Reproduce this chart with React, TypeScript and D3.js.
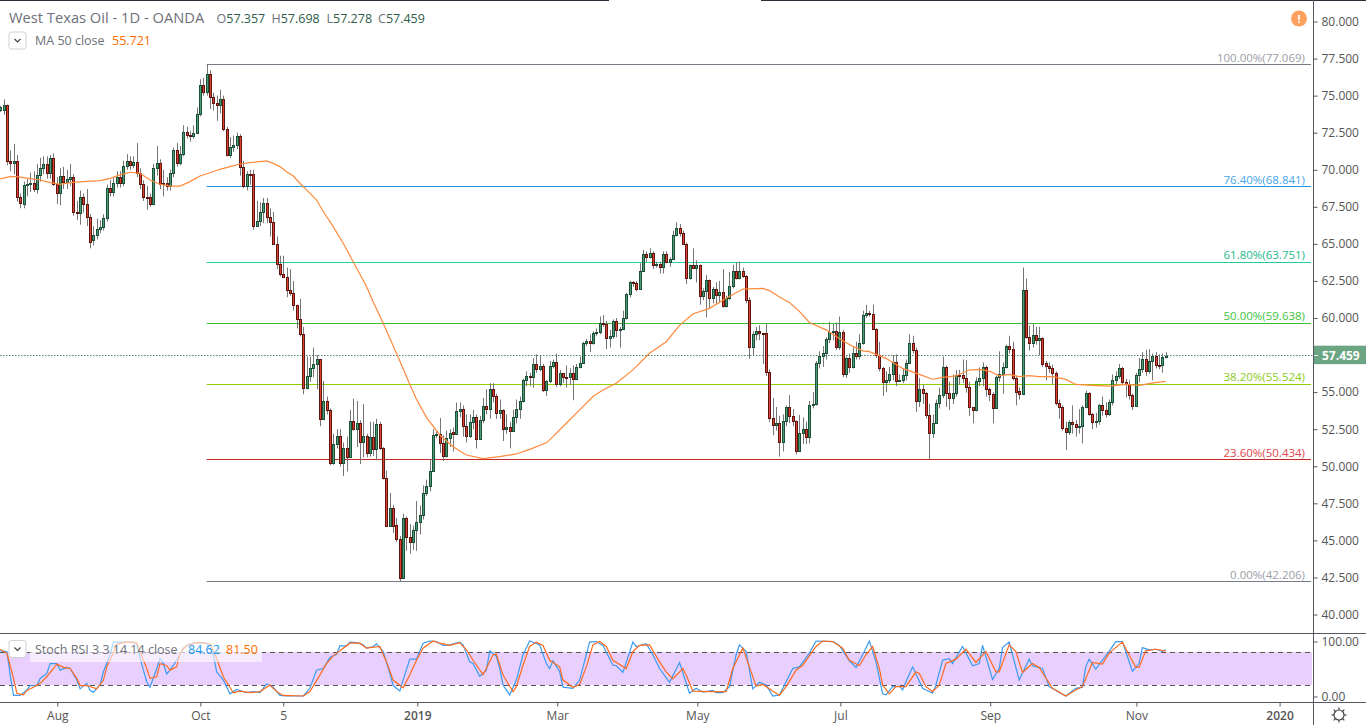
import React, { useEffect, useRef } from "react";
import * as d3 from "d3";

type Bar = [number, number, number, number]; // open, high, low, close

const barsSummer2018: Bar[] = [
  [74.03,74.3,73.9,74.21],[74.03,74.75,73.7,74.35],[74.35,74.4,70.3,70.61],[70.61,71.3,69.9,70.43],[70.43,71.75,69.7,70.61],
  [70.61,71.0,67.85,68.14],[68.14,68.4,67.4,67.74],[67.7,69.2,67.4,68.95],[68.95,69.4,68.2,69.04],[69.04,69.8,68.5,69.09],
  [69.09,69.9,68.5,68.68],[68.68,70.4,68.4,69.65],[69.65,70.8,69.2,70.1],[70.1,70.9,69.7,70.39],[70.39,70.9,69.4,69.76],
  [69.76,71.0,69.4,70.77],[70.77,71.1,68.9,69.04],[69.04,69.5,67.7,68.46],[68.46,70.1,67.6,69.58],[69.58,70.2,68.7,69.2],
  [69.2,70.0,68.7,69.36],[69.36,70.4,68.9,69.49],[69.49,69.7,66.9,67.18],[67.18,67.9,66.6,67.06],[67.06,68.6,66.3,68.14],
  [68.14,68.4,67.1,67.7],[67.7,68.7,66.2,66.84],[66.84,67.0,64.7,65.1],[65.27,66.2,64.9,65.6],[65.6,66.7,65.3,65.98],
  [65.98,66.6,65.7,66.12],[66.12,67.0,65.9,66.72],[66.72,69.0,66.5,68.8],[68.8,69.3,68.2,68.52],[68.52,69.5,68.2,69.13],
  [69.13,69.9,68.8,69.49],[69.49,69.9,68.8,69.09],[69.09,70.6,68.9,70.25],[70.25,71.05,70.0,70.57],[70.57,70.9,70.0,70.35],
  [70.35,70.9,70.1,70.5],[70.5,71.8,69.5,69.76],[69.76,70.1,68.7,69.02],[69.02,69.3,67.9,68.19],[68.19,68.9,67.3,68.14],
  [68.14,68.4,67.5,67.7],[67.7,70.4,67.6,70.1],[70.1,71.6,69.6,70.48],[70.48,70.7,68.7,69.04],[69.13,70.0,68.2,69.04],
  [69.13,69.5,68.6,68.9],[68.9,70.0,68.6,69.76],[69.76,71.5,69.5,71.33],[71.33,71.8,70.2,70.48],[70.48,71.6,70.3,71.06],
  [71.06,73.0,70.9,72.53],[72.53,72.9,72.1,72.35],[72.35,72.6,71.9,72.28],[72.28,73.0,72.1,72.46],[72.46,74.2,72.4,73.74],
];

const barsAutumn2018: Bar[] = [
  [73.74,76.1,73.6,75.7],[75.7,76.2,75.0,75.27],[75.27,77.07,75.0,76.44],[76.44,76.7,74.1,74.89],[74.89,75.2,74.0,74.48],
  [74.48,75.0,73.3,74.35],[74.35,75.4,73.8,74.8],[74.8,75.0,72.6,72.73],[72.73,72.9,70.9,71.02],[71.02,72.2,70.8,71.51],
  [71.51,72.3,71.2,71.69],[71.69,72.5,71.4,72.28],[72.28,72.4,69.6,70.21],[70.17,70.6,68.75,68.9],[68.9,69.9,68.6,69.72],
  [69.72,70.0,69.0,69.7],[69.72,70.0,65.95,66.23],[66.23,67.9,66.2,66.52],[66.52,67.8,66.2,67.13],[67.13,68.1,66.4,67.74],
  [67.74,68.1,66.4,66.79],[66.79,67.4,65.5,66.45],[66.45,67.15,64.97,64.97],[64.97,65.5,63.3,63.62],[63.62,64.2,62.8,62.95],
  [62.95,64.2,62.7,62.75],[62.75,63.4,61.4,61.87],[61.87,63.3,61.5,61.67],[61.67,62.5,60.5,60.86],[60.86,60.9,59.3,59.91],
  [59.91,61.3,58.75,58.9],[58.9,59.4,54.85,55.26],[55.26,57.4,55.2,56.07],[56.07,57.4,55.7,56.61],[56.61,58.0,56.0,56.88],
  [56.88,57.5,55.2,57.21],[57.21,57.25,52.7,53.21],[53.21,55.75,53.2,54.43],[54.43,54.7,53.5,53.77],[53.77,53.9,50.05,50.25],
  [50.25,52.2,50.1,51.48],[51.48,52.5,51.2,52.04],[52.04,52.5,49.98,50.2],[50.2,51.6,49.35,51.21],[51.21,52.0,49.65,50.65],
  [50.65,53.8,50.65,53.03],[53.03,54.55,52.4,52.54],[52.54,54.4,51.3,52.9],[52.9,53.1,50.15,51.66],[51.66,54.2,50.6,52.07],
  [52.07,52.2,50.6,50.87],[50.87,53.0,50.65,51.95],[51.95,53.0,50.7,51.19],[51.19,53.2,50.4,52.83],[52.83,53.0,51.1,51.21],
  [51.21,51.3,49.1,49.23],[49.23,49.7,45.9,46.0],[46.0,48.2,45.9,47.17],[47.17,47.4,45.5,46.0],[46.02,46.5,44.9,45.12],
  [45.12,45.3,42.26,42.49],[42.49,46.8,42.4,46.49],[46.49,46.6,44.3,45.25],[45.25,46.1,44.1,44.92],[44.92,46.0,44.35,45.68],
];

const barsEarly2019: Bar[] = [
  [45.68,47.65,44.3,46.22],[46.22,47.35,45.4,46.69],[46.69,48.7,46.4,48.18],[48.18,49.1,48.0,48.65],[48.65,50.5,48.3,49.66],
  [49.66,52.5,49.6,52.09],[52.09,52.4,51.9,52.2],[52.2,53.25,50.9,51.6],[51.6,52.1,50.35,50.72],[50.72,52.4,50.6,51.93],
  [51.93,52.5,51.3,52.27],[52.29,52.6,51.0,52.16],[52.16,54.3,52.1,53.71],[53.71,54.3,53.3,53.89],[53.89,54.1,52.0,52.74],
  [52.74,53.5,51.6,52.07],[52.07,53.5,51.9,52.97],[52.97,53.8,52.5,53.3],[53.3,53.5,51.2,51.86],[51.86,53.4,51.8,53.1],
  [53.1,54.6,52.9,54.04],[54.04,55.2,53.5,53.84],[53.84,55.6,53.2,55.19],[55.19,55.6,54.3,54.72],[54.72,54.9,53.2,53.57],
  [53.57,54.5,53.2,53.77],[53.77,53.85,51.7,52.5],[52.5,53.5,52.2,52.63],[52.63,53.0,51.2,52.36],[52.36,53.8,52.3,53.3],
  [53.3,54.5,52.9,53.89],[53.89,54.7,53.2,54.43],[54.43,55.9,54.3,55.8],[55.8,56.4,55.4,56.07],[56.07,56.3,55.4,56.05],
  [56.05,57.3,55.3,56.9],[56.9,57.55,56.3,56.54],[56.54,57.5,56.4,56.76],[56.76,56.9,55.0,55.12],[55.12,55.8,54.75,55.73],
  [55.73,57.1,55.6,56.74],[56.74,57.2,56.6,57.01],[57.01,57.6,55.35,55.55],[55.55,56.5,55.4,56.27],[56.27,56.3,55.6,56.05],
  [56.05,56.8,55.3,56.0],[56.0,56.6,55.5,56.27],[56.27,56.8,54.45,55.87],[55.87,56.9,55.8,56.68],[56.68,57.4,56.6,56.99],
  [56.99,58.4,56.9,58.29],[58.29,58.6,58.1,58.43],[58.43,58.9,57.7,58.34],[58.34,59.1,58.2,58.97],[58.97,59.3,58.8,59.06],
  [59.06,60.1,58.9,59.69],[59.69,60.2,59.4,59.58],[59.58,59.8,57.9,58.68],[58.68,59.2,58.0,58.81],[58.81,59.9,58.6,59.78],
  [59.78,60.0,58.7,59.17],[59.17,59.4,58.0,59.28],[59.28,60.5,59.2,59.98],[59.98,61.7,59.9,61.6],[61.6,62.5,61.4,62.41],
  [62.41,62.5,62.1,62.34],[62.34,62.5,61.8,61.98],[61.98,63.7,61.9,63.15],[63.15,64.6,63.1,64.32],[64.32,64.5,63.8,64.14],
  [64.14,64.7,64.0,64.36],[64.36,64.5,63.3,63.6],[63.6,63.8,63.4,63.67],[63.67,63.8,63.0,63.46],[63.46,64.5,63.0,64.3],
  [64.3,64.5,63.7,63.76],[63.76,64.1,63.45,63.96],[63.96,65.9,63.9,65.58],[65.58,66.45,65.5,66.05],[66.05,66.35,65.5,65.71],
  [65.71,65.9,64.95,65.02],[65.02,65.1,62.3,62.72],[62.72,63.6,62.6,63.55],[63.55,64.7,63.3,63.4],[63.4,63.9,62.4,63.55],
];

const barsMid2019: Bar[] = [
  [63.55,63.6,60.9,61.51],[61.51,62.0,61.2,61.8],[61.8,62.9,60.05,62.54],[62.54,62.6,60.6,61.37],[61.37,62.1,61.0,61.94],
  [61.94,62.4,60.9,61.58],[61.58,62.5,61.0,61.73],[61.73,63.3,60.7,60.83],[60.83,61.5,60.7,61.33],[61.33,63.1,61.2,62.14],
  [62.14,63.6,62.0,63.15],[63.15,63.75,62.6,62.72],[62.72,63.8,62.6,63.15],[63.15,63.4,62.7,62.81],[62.81,62.9,61.0,61.19],
  [61.22,61.4,57.25,58.07],[58.07,59.1,57.5,58.9],[58.9,59.4,58.5,59.15],[59.15,59.5,58.5,58.97],[58.97,59.0,56.9,58.95],
  [58.97,59.65,56.1,56.34],[56.34,56.55,53.0,53.24],[53.24,54.6,52.1,52.76],[52.76,54.0,52.4,52.9],[52.9,53.4,50.65,51.66],
  [51.66,53.5,51.0,53.06],[53.06,54.1,52.7,53.98],[53.98,54.8,52.9,53.37],[53.37,53.85,52.7,53.04],[53.04,53.1,50.8,51.05],
  [51.05,53.45,50.95,52.22],[52.22,53.3,51.5,52.49],[52.49,53.0,51.5,51.95],[51.95,54.4,51.55,54.11],[54.11,55.0,53.9,54.18],
  [54.18,57.1,54.1,56.94],[56.94,57.75,56.6,57.44],[57.44,58.1,56.7,57.62],[57.62,58.7,57.2,58.56],[58.56,59.75,58.3,59.06],
  [59.06,59.6,58.5,59.1],[59.1,59.7,57.85,58.02],[58.02,60.1,57.85,59.04],[59.04,59.2,56.0,56.2],[56.2,57.4,55.95,57.28],
  [57.28,57.6,56.3,56.67],[56.67,58.1,56.6,57.62],[57.62,58.4,57.2,57.42],[57.42,58.9,57.2,58.29],[58.29,60.5,58.2,60.18],
  [60.18,60.9,60.0,60.36],[60.36,60.5,60.1,60.3],[60.3,60.9,59.2,59.28],[59.28,59.3,57.3,57.51],[57.51,58.4,56.4,56.6],
  [56.6,56.7,54.75,55.66],[55.66,56.4,55.0,55.8],[55.8,56.7,55.6,56.22],[56.22,57.5,55.8,57.01],[57.01,57.55,55.4,55.78],
  [55.8,56.2,55.7,55.8],[55.8,56.6,55.6,56.16],[56.16,57.2,55.8,56.94],[56.94,58.9,56.9,58.29],[58.29,58.8,57.6,57.82],
  [57.82,58.0,53.65,54.43],[54.43,55.95,54.0,55.19],[55.19,55.5,54.2,54.92],[54.92,55.0,53.2,53.44],[53.44,54.2,50.47,52.27],
  [52.27,53.5,51.9,52.9],[52.9,54.5,52.9,54.25],[54.25,55.3,53.9,54.79],[54.79,57.4,54.6,56.67],[56.67,56.8,54.0,54.92],
  [54.92,55.7,53.8,54.63],[54.63,56.2,54.2,54.92],[54.92,56.5,54.7,56.13],[56.13,56.5,55.5,56.1],[56.13,57.2,55.6,55.93],
  [55.93,57.17,54.96,55.37],[55.37,55.7,53.4,53.97],[53.97,54.0,52.9,53.82],[53.82,56.0,53.7,55.72],[55.72,56.67,55.4,55.93],
  [55.93,57.0,55.4,56.67],[56.67,56.8,54.7,55.19],
];

const barsLate2019: Bar[] = [
  [55.19,55.3,54.4,54.85],[54.85,55.0,52.9,53.95],[53.95,56.1,53.9,56.0],[56.0,57.75,55.7,56.2],[56.2,57.0,54.9,56.67],
  [56.67,58.2,56.6,58.09],[58.09,58.8,57.6,57.88],[57.88,58.4,55.8,55.93],[55.93,56.1,54.1,55.03],[55.05,55.3,54.5,54.85],
  [54.85,63.4,54.8,61.86],[61.86,62.65,58.6,58.74],[58.74,59.5,57.8,58.33],[58.33,59.6,58.0,58.83],[58.83,59.4,58.2,58.49],
  [58.49,59.4,57.5,58.63],[58.63,58.7,56.7,56.92],[56.94,57.1,55.8,56.74],[56.74,57.0,56.3,56.65],[56.65,56.85,55.55,56.27],
  [56.27,56.4,54.1,54.29],[54.29,54.5,53.2,54.02],[54.02,54.1,52.4,52.56],[52.56,53.0,51.1,52.33],[52.33,53.1,52.1,53.0],
  [53.0,54.1,52.2,52.83],[52.83,53.1,52.0,52.63],[52.63,53.85,52.2,52.7],[52.7,54.1,51.55,53.97],[53.97,55.1,53.9,54.92],
  [54.92,55.0,53.4,53.5],[53.5,53.6,52.5,52.96],[52.96,53.6,52.6,53.03],[53.03,54.2,52.8,54.11],[54.11,54.7,53.4,53.77],
  [53.77,54.3,53.3,53.55],[53.55,54.5,53.4,54.31],[54.31,56.2,54.1,55.79],[55.79,56.4,55.5,56.06],[56.06,56.9,55.9,56.6],
  [56.6,56.7,55.5,55.7],[55.7,55.9,54.65,55.52],[55.52,55.8,54.5,54.83],[54.83,54.9,53.8,54.09],[54.09,56.3,54.0,56.13],
  [56.13,57.3,55.65,56.53],[56.53,57.7,56.3,57.21],[57.21,57.85,56.1,56.4],[56.4,57.9,56.25,57.07],[57.07,57.6,55.8,57.41],
  [57.41,57.7,56.6,56.85],[56.85,57.55,56.55,56.8],[56.8,57.6,56.3,57.34],[57.357,57.698,57.278,57.459],
];

const bars = [...barsSummer2018, ...barsAutumn2018, ...barsEarly2019, ...barsMid2019, ...barsLate2019];

// [bar index, value]
const ma50: [number, number][] = [
  [0,69.38],[3,69.54],[5,69.54],[8,69.43],[12,69.31],[15,69.13],[18,69.02],[21,69.13],[25,69.2],[30,69.27],[33,69.42],[36,69.65],
  [39,69.83],[42,69.76],[45,69.31],[48,69.02],[51,68.9],[54,68.9],[57,69.2],[60,69.58],[63,69.8],[66,70.03],[69,70.21],[72,70.39],
  [75,70.48],[78,70.55],[80,70.6],[82,70.43],[84,70.21],[86,69.87],[88,69.58],[90,69.09],[92,68.64],[95,67.96],[97,67.18],[100,66.16],
  [103,65.04],[106,63.8],[110,62.12],[112,61.1],[115,59.64],[119,57.62],[123,55.53],[125,54.52],[128,53.3],[132,52.11],[136,51.32],
  [140,50.76],[145,50.51],[150,50.65],[155,50.83],[159,51.14],[164,51.58],[166,52.0],[170,52.9],[174,53.8],[178,54.7],[181,55.15],
  [185,55.6],[190,56.5],[195,57.62],[200,58.4],[204,59.5],[208,60.27],[213,60.65],[218,61.33],[223,61.95],[229,62.0],[231,61.85],
  [234,61.42],[237,61.05],[240,60.45],[243,59.7],[248,59.2],[253,58.47],[256,58.1],[259,57.78],[261,57.73],[266,57.28],[271,56.6],
  [276,56.2],[280,55.87],[283,56.0],[287,56.09],[291,56.49],[294,56.53],[297,56.42],[300,56.1],[303,56.2],[306,56.04],[309,56.11],
  [312,56.04],[316,56.04],[320,55.86],[323,55.52],[328,55.46],[333,55.41],[338,55.52],[342,55.46],[345,55.57],[348,55.68],[350,55.72],
];

const stochK: [number, number][] = [
  [0,82],[2,81],[3,38],[4,1],[6,1],[8,11],[9,19],[11,19],[12,32],[14,41],[15,59],[17,59],[18,47],[20,52],[21,50],[23,29],[24,13],[26,23],
  [27,10],[28,7],[30,21],[31,44],[33,75],[34,98],[37,98],[40,98],[41,93],[43,47],[44,26],[45,16],[47,50],[48,68],[49,59],[50,40],[51,47],
  [53,65],[55,87],[57,95],[59,97],[62,96],[64,75],[65,44],[67,29],[69,4],[71,12],[74,6],[76,8],[78,6],[80,22],[82,16],[84,1],[86,0],[91,0],
  [93,14],[95,47],[97,50],[99,70],[101,76],[102,91],[104,91],[105,98],[107,97],[109,93],[110,87],[112,90],[113,95],[115,81],[117,41],[118,19],
  [120,9],[121,29],[123,67],[125,67],[127,96],[129,100],[131,99],[133,92],[135,93],[138,98],[139,93],[141,62],[142,59],[144,36],[146,47],
  [147,82],[149,72],[150,50],[151,20],[153,2],[155,29],[157,75],[159,100],[162,93],[164,59],[165,50],[166,64],[168,44],[169,16],[172,14],
  [174,29],[177,98],[179,99],[181,92],[184,56],[185,55],[187,43],[190,98],[191,90],[194,95],[196,75],[198,50],[201,25],[204,61],[207,5],
  [209,14],[211,7],[214,10],[215,6],[217,6],[219,17],[221,75],[222,93],[224,81],[226,13],[228,25],[230,20],[232,0],[234,2],[238,50],[240,53],
  [243,78],[245,100],[250,99],[252,92],[255,64],[257,52],[259,75],[261,100],[263,62],[265,4],[266,2],[268,17],[270,18],[271,11],[272,26],
  [274,53],[277,14],[280,5],[281,20],[283,65],[285,68],[286,59],[289,90],[292,55],[294,59],[295,92],[298,30],[300,50],[301,88],[303,98],
  [306,29],[309,67],[310,55],[313,50],[315,17],[320,0],[323,14],[325,16],[326,53],[327,67],[329,49],[332,73],[333,81],[335,99],[337,99],
  [340,45],[342,59],[343,88],[345,84],[347,85],[349,81],[350,84.62],
];

const stochD: [number, number][] = [
  [0,85],[2,78],[4,32],[5,5],[7,2],[8,10],[10,16],[12,23],[14,35],[16,50],[17,58],[19,52],[21,50],[23,32],[24,19],[26,19],[29,13],[31,29],
  [32,53],[34,78],[35,94],[38,98],[41,97],[42,81],[44,50],[45,32],[47,35],[48,59],[50,55],[51,47],[53,53],[54,78],[56,92],[59,97],[63,95],
  [65,68],[67,35],[70,6],[72,9],[75,6],[78,8],[81,20],[83,8],[85,1],[91,0],[93,8],[96,38],[98,59],[100,73],[103,87],[105,96],[108,96],[110,87],
  [114,90],[116,62],[118,29],[121,15],[123,38],[125,65],[127,87],[130,100],[132,96],[135,92],[138,97],[140,84],[142,65],[145,39],[146,50],
  [148,75],[149,76],[151,38],[154,8],[155,17],[157,56],[159,90],[161,98],[163,92],[165,65],[168,53],[169,29],[172,16],[174,21],[176,53],
  [178,93],[180,99],[182,90],[184,65],[188,50],[190,81],[192,92],[195,93],[198,62],[200,44],[202,31],[205,50],[206,38],[208,9],[213,8],[218,8],
  [220,50],[223,87],[225,53],[227,18],[229,21],[234,1],[236,17],[239,47],[241,56],[245,90],[247,100],[250,99],[253,87],[255,65],[258,55],[260,75],
  [262,90],[264,50],[265,20],[267,4],[269,17],[272,17],[275,44],[276,41],[278,17],[280,8],[282,20],[284,59],[287,67],[290,85],[293,61],[296,81],
  [299,44],[300,44],[303,93],[305,81],[307,43],[310,59],[312,52],[316,14],[320,0],[323,11],[325,17],[328,61],[331,58],[333,78],[337,98],[339,75],
  [341,52],[342,52],[344,82],[347,85],[350,81.5],
];

const priceTicks = [80, 77.5, 75, 72.5, 70, 67.5, 65, 62.5, 60, 57.5, 55, 52.5, 50, 47.5, 45, 42.5, 40];
const stochTicks = [100, 0];
const stochBands = [80, 20];

const timeLabels = ["Aug", "Oct", "5", "2019", "Mar", "May", "Jul", "Sep", "Nov", "2020"];
const timeBars = [17.15, 60.1, 85, 125.25, 167.3, 209.35, 252.3, 297.3, 341.2, 384.2];

const fibLevels = ["100.00%", "76.40%", "61.80%", "50.00%", "38.20%", "23.60%", "0.00%"];
const fibPrices = [77.069, 68.841, 63.751, 59.638, 55.524, 50.434, 42.206];
const fibColors = ["#787b86", "#1e96e0", "#1fcf9a", "#3bbf3b", "#8fce00", "#c62828", "#787b86"];
const fibTextColors = ["#9a9da6", "#45a5e8", "#22b98c", "#3fc33f", "#8ccb1e", "#e0464b", "#9a9da6"];

const lastPrice = 57.459;
const FONT = "'Open Sans', sans-serif";

const App: React.FC = () => {
  const svgRef = useRef<SVGSVGElement | null>(null);

  useEffect(() => {
    if (!svgRef.current) return;
    const svg = d3.select(svgRef.current);
    svg.selectAll("*").remove();
    svg.style("font-family", FONT);

    const axisX = 1313;
    const x = d3.scaleLinear().domain([0, 350]).range([0.2, 1165.7]);
    const y = d3.scaleLinear().domain([80, 40]).range([21.5, 614.5]);
    const ys = d3.scaleLinear().domain([0, 100]).range([696, 641]);
    const crisp = (v: number) => Math.floor(v) + 0.5;

    // Top strip
    svg.append("rect").attr("x", 0).attr("y", 0).attr("width", 609).attr("height", 1).attr("fill", "#2a2e39");
    svg.append("rect").attr("x", 761).attr("y", 0).attr("width", 605).attr("height", 1).attr("fill", "#2a2e39");

    // Fib levels
    const fib = svg.append("g");
    fibPrices.forEach((p, i) => {
      fib.append("line")
        .attr("x1", x(62)).attr("x2", 1311)
        .attr("y1", crisp(y(p))).attr("y2", crisp(y(p)))
        .attr("stroke", fibColors[i]).attr("stroke-width", 1);
      fib.append("text")
        .attr("x", 1305).attr("y", y(p) - 3)
        .attr("text-anchor", "end").attr("font-size", 11.5)
        .attr("fill", fibTextColors[i])
        .text(`${fibLevels[i]}(${p.toFixed(3)})`);
    });

    // Last price line
    svg.append("line")
      .attr("x1", 0).attr("x2", axisX)
      .attr("y1", crisp(y(lastPrice))).attr("y2", crisp(y(lastPrice)))
      .attr("stroke", "#53806c").attr("stroke-dasharray", "1.5,1.5");

    // Candles
    const candles = svg.append("g");
    bars.forEach(([o, h, l, c], i) => {
      const cx = Math.round(x(i));
      const up = c >= o;
      candles.append("line")
        .attr("x1", cx + 0.5).attr("x2", cx + 0.5)
        .attr("y1", y(h)).attr("y2", y(l))
        .attr("stroke", "#767676");
      const top = Math.round(y(Math.max(o, c)));
      const bottom = Math.round(y(Math.min(o, c)));
      candles.append("rect")
        .attr("x", cx - 0.5).attr("y", top + 0.5)
        .attr("width", 2).attr("height", Math.max(bottom - top, 1))
        .attr("fill", up ? "#4a9c74" : "#e0402b")
        .attr("stroke", up ? "#1c4f37" : "#5e1610")
        .attr("shape-rendering", "crispEdges");
    });

    // MA 50
    const lineGen = d3.line<[number, number]>().x((d) => x(d[0])).y((d) => y(d[1]));
    svg.append("path").datum(ma50).attr("d", lineGen)
      .attr("fill", "none").attr("stroke", "#ff8a3c").attr("stroke-width", 1.2);

    // Stoch RSI pane
    svg.append("rect")
      .attr("x", 0).attr("width", axisX - 1)
      .attr("y", ys(stochBands[0])).attr("height", ys(stochBands[1]) - ys(stochBands[0]))
      .attr("fill", "#e9cffd");
    stochBands.forEach((b) => {
      svg.append("line")
        .attr("x1", 0).attr("x2", axisX)
        .attr("y1", crisp(ys(b))).attr("y2", crisp(ys(b)))
        .attr("stroke", "#555").attr("stroke-dasharray", "5,4");
    });
    const stochGen = d3.line<[number, number]>().x((d) => x(d[0])).y((d) => ys(d[1]));
    svg.append("path").datum(stochK).attr("d", stochGen)
      .attr("fill", "none").attr("stroke", "#3a9bf0").attr("stroke-width", 1.2);
    svg.append("path").datum(stochD).attr("d", stochGen)
      .attr("fill", "none").attr("stroke", "#ff6a1f").attr("stroke-width", 1.2);

    // Pane borders
    const borderColor = "#555860";
    [633, 702].forEach((v) => {
      svg.append("line").attr("x1", 0).attr("x2", 1366)
        .attr("y1", v + 0.5).attr("y2", v + 0.5).attr("stroke", borderColor);
    });
    svg.append("line").attr("x1", axisX + 0.5).attr("x2", axisX + 0.5)
      .attr("y1", 0).attr("y2", 725).attr("stroke", borderColor);

    // Axes
    const styleAxis = (g: d3.Selection<SVGGElement, unknown, null, undefined>) => {
      g.select(".domain").remove();
      g.selectAll("line").attr("stroke", borderColor);
      g.selectAll("text").attr("fill", "#555").attr("font-size", 12).attr("font-family", FONT);
    };
    svg.append("g").attr("transform", `translate(${axisX + 0.5},0)`)
      .call(d3.axisRight(y).tickValues(priceTicks).tickSize(4).tickPadding(4).tickFormat((d) => d3.format(".3f")(d as number)))
      .call(styleAxis);
    svg.append("g").attr("transform", `translate(${axisX + 0.5},0.5)`)
      .call(d3.axisRight(ys).tickValues(stochTicks).tickSize(4).tickPadding(4).tickFormat((d) => d3.format(".2f")(d as number)))
      .call(styleAxis);
    const timeAxis = svg.append("g").attr("transform", "translate(0,702.5)")
      .call(d3.axisBottom(x).tickValues(timeBars).tickSize(4).tickPadding(5)
        .tickFormat((_, i) => timeLabels[i]))
      .call(styleAxis);
    timeAxis.selectAll<SVGTextElement, number>("text")
      .attr("font-weight", (_, i) => (timeLabels[i].length === 4 && /^\d+$/.test(timeLabels[i]) ? 600 : 400));

    // Last price tag
    svg.append("rect")
      .attr("x", axisX + 1).attr("y", y(lastPrice) - 10)
      .attr("width", 1366 - axisX).attr("height", 18.5)
      .attr("fill", "#6ba583");
    svg.append("line")
      .attr("x1", axisX + 1).attr("x2", axisX + 5)
      .attr("y1", crisp(y(lastPrice))).attr("y2", crisp(y(lastPrice)))
      .attr("stroke", "#fff");
    svg.append("text")
      .attr("x", axisX + 9).attr("y", y(lastPrice) + 4)
      .attr("font-size", 12).attr("font-weight", 700).attr("fill", "#fff")
      .text(lastPrice.toFixed(3));

    // Legends
    const addButton = (bx: number, by: number) => {
      svg.append("rect")
        .attr("x", bx + 0.5).attr("y", by + 0.5).attr("width", 17).attr("height", 17).attr("rx", 2.5)
        .attr("fill", "#fff").attr("stroke", "#cfd1d6");
      svg.append("path")
        .attr("d", `M${bx + 6},${by + 7.5}L${bx + 9},${by + 10.5}L${bx + 12},${by + 7.5}`)
        .attr("fill", "none").attr("stroke", "#444").attr("stroke-width", 1.2);
    };
    const addText = (tx: number, ty: number, size: number, fill: string, s: string) =>
      svg.append("text").attr("x", tx).attr("y", ty).attr("font-size", size).attr("fill", fill).text(s);

    addText(9, 23, 14.7, "#6e7079", "West Texas Oil - 1D - OANDA");
    const ohlcLabels = ["O", "H", "L", "C"];
    const ohlcValues = ["57.357", "57.698", "57.278", "57.459"];
    const ohlcX = [216.5, 271.5, 326.5, 378];
    ohlcLabels.forEach((lab, i) => {
      const t = addText(ohlcX[i], 23, 12.5, "#6e7079", lab);
      t.append("tspan").attr("fill", "#2f5c48").text(ohlcValues[i]);
    });

    addButton(8.5, 31.5);
    addText(35, 45, 12.5, "#6e7079", "MA 50 close");
    addText(112, 45, 12.5, "#ff6d00", "55.721");

    svg.append("rect").attr("x", 30).attr("y", 641).attr("width", 232).attr("height", 21)
      .attr("fill", "#fff").attr("fill-opacity", 0.6);
    addButton(8.5, 640);
    addText(35, 653.5, 12.5, "#6e7079", "Stoch RSI 3 3 14 14 close");
    addText(188, 653.5, 12.5, "#2196f3", "84.62");
    addText(226, 653.5, 12.5, "#ff6d00", "81.50");

    // Warning badge
    svg.append("circle").attr("cx", 1299).attr("cy", 18.5).attr("r", 8).attr("fill", "#ffa15e");
    svg.append("text").attr("x", 1299).attr("y", 22.5).attr("text-anchor", "middle")
      .attr("font-size", 11).attr("font-weight", 700).attr("fill", "#fff").text("!");

    // Settings gear
    const gear = svg.append("g").attr("transform", "translate(1339,715)")
      .attr("fill", "none").attr("stroke", "#444").attr("stroke-width", 1.2);
    gear.append("circle").attr("r", 5);
    d3.range(8).forEach((k) => {
      const a = (k * Math.PI) / 4;
      gear.append("line")
        .attr("x1", 5 * Math.cos(a)).attr("y1", 5 * Math.sin(a))
        .attr("x2", 7.5 * Math.cos(a)).attr("y2", 7.5 * Math.sin(a));
    });
  }, []);

  return (
    <svg
      ref={svgRef}
      width={1366}
      height={725}
      style={{ position: "absolute", left: 0, top: 0, display: "block", background: "#fff" }}
    />
  );
};

export default App;
